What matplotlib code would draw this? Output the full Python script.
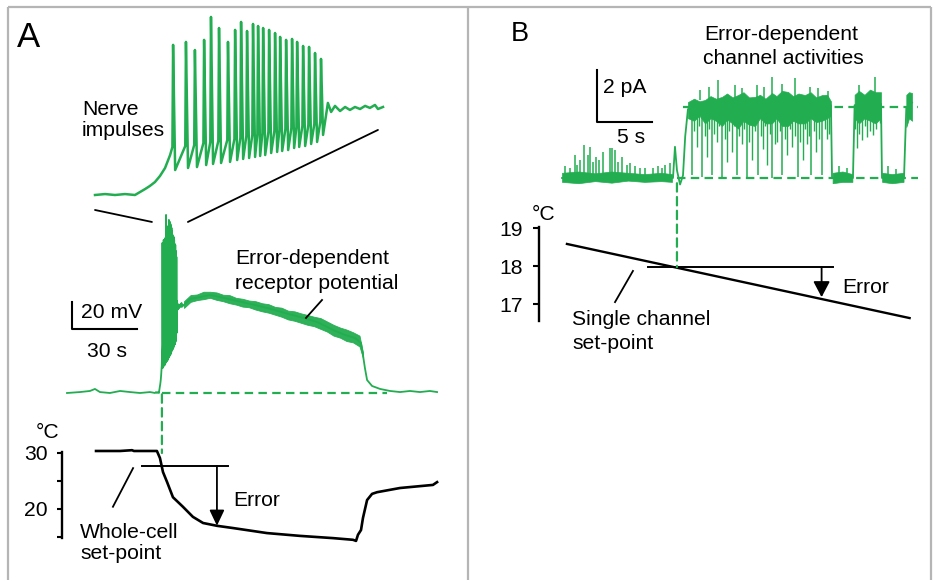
import matplotlib
matplotlib.use("Agg")
import matplotlib.pyplot as plt
from matplotlib.patches import ConnectionPatch

plt.rcParams['font.family'] = ['Liberation Sans', 'DejaVu Sans']

GREEN = '#22ad50'
GRAY = '#b5b5b5'
FS = 15.2

# ====================== DATA ======================
# ---- Panel A: whole-cell receptor potential (time s, potential mV above rest)
a_base_t = [0.0, 6.0, 10.6, 12.9, 15.2, 19.8, 24.5, 29.1, 33.7, 38.3]
a_base_v = [0.0, 0.7, 1.5, 3.0, 0.7, 0.0, 1.5, 0.7, 0.0, 0.7]

# onset of firing (this part is also shown expanded as "Nerve impulses")
a_onset_t = [40.66, 41.10, 41.53, 41.97, 42.40, 42.62, 42.84, 43.05, 43.27,
             43.49, 43.71, 43.93]
a_onset_v = [0.0, 0.7, 0.0, 0.7, 0.0, 2.2, 4.4, 6.7, 9.6, 14.1, 20.0, 29.6]

spike_t = [44.06, 44.62, 45.01, 45.41, 45.71, 46.06, 46.45, 46.76, 47.02, 47.28,
           47.54, 47.76, 47.98, 48.24, 48.50, 48.72, 48.98, 49.24, 49.46, 49.72,
           49.98, 50.24, 50.50]
spike_peak = [111.2, 113.4, 107.4, 114.9, 131.9, 123.7, 113.4, 122.3, 128.2, 121.5,
              126.7, 125.2, 123.7, 122.3, 120.0, 117.1, 114.9, 115.6, 113.4, 110.4,
              109.7, 105.2, 100.8]
spike_threshold = [35.6, 36.3, 37.1, 38.5, 39.3, 40.0, 40.8, 41.5, 42.2, 43.7,
                   44.5, 45.2, 45.9, 46.7, 47.4, 48.2, 48.9, 49.6, 50.4, 51.1,
                   51.9, 52.6, 54.1]
spike_trough = [18.5, 20.0, 20.7, 22.2, 23.0, 23.7, 24.5, 25.9, 26.7, 27.4,
                28.2, 28.9, 29.6, 31.1, 31.9, 32.6, 33.3, 34.8, 35.6, 36.3,
                37.8, 39.3, 44.5]

a_tail_t = [50.80, 50.94, 51.11, 51.33, 51.55, 51.76, 51.98, 52.20, 52.42,
            52.63, 52.85, 52.98, 53.20]
a_tail_v = [68.2, 61.5, 66.0, 62.2, 65.2, 63.0, 65.2, 63.7, 66.0, 64.5, 66.7,
            63.7, 65.2]

a_plat_t = [53.5, 56.8, 61.4, 66.0, 70.6, 76.6, 84.5, 92.3, 100.5, 107.5, 115.4,
            122.8, 128.3, 132.9, 135.7, 136.6, 137.5, 138.5, 140.8, 144.5, 149.1,
            153.7, 158.3, 162.9, 167.5, 170.8]
a_plat_v = [64.5, 69.7, 71.1, 72.6, 71.1, 68.9, 66.0, 63.0, 59.3, 56.3, 52.6,
            46.7, 43.0, 40.8, 37.0, 28.2, 18.5, 9.6, 5.2, 3.0, 1.5,
            0.7, 1.5, 0.7, 1.5, 0.7]
# noisy band around the plateau (upper / lower edge)
a_band_t = [54, 57, 60, 63, 66, 69, 72, 75, 78, 81, 84, 87, 90, 93, 96, 99, 102,
            105, 108, 111, 114, 117, 120, 123, 126, 129, 132, 135, 136.6]
a_band_hi = [68.0, 72.5, 73.0, 75.0, 75.0, 74.5, 72.8, 72.5, 70.5, 69.8, 68.5, 68.0,
             66.5, 65.8, 63.8, 63.2, 61.0, 60.5, 59.0, 57.8, 56.5, 55.5, 53.0, 50.5,
             48.5, 47.0, 45.0, 42.5, 30.0]
a_band_lo = [63.0, 67.5, 68.8, 69.5, 70.5, 69.0, 68.0, 66.5, 65.5, 64.0, 63.5, 61.8,
             60.5, 59.5, 58.0, 56.5, 54.5, 53.5, 52.0, 50.5, 49.5, 47.5, 45.5, 42.5,
             41.0, 38.5, 37.5, 34.5, 26.0]
a_response_onset = 43.8      # s
a_response_end = 147.7       # s (end of dashed rest line)

# ---- Panel A: bath temperature (time s, deg C)
a_temp_t = [13.4, 24.5, 30.0, 30.9, 41.5, 42.9, 44.3, 46.2, 48.9, 53.5, 58.1,
            62.8, 69.2, 76.6, 92.3, 107.5, 122.8, 132.0, 133.4, 134.3, 135.7,
            136.6, 138.5, 140.8, 143.1, 153.7, 168.9, 170.8]
a_temp_c = [30.36, 30.36, 30.5, 30.36, 30.36, 29.1, 26.6, 24.8, 22.1, 20.4, 18.6,
            17.5, 17.0, 16.6, 15.7, 15.2, 14.8, 14.5, 14.3, 15.4, 16.25,
            18.4, 21.6, 22.7, 23.0, 23.75, 24.3, 24.8]
a_setpoint = 27.7
a_setpoint_span = [34.6, 74.3]
a_error_t = 69.2
a_error_to = 17.0
a_temp_ticks = [15, 20, 25, 30]
a_temp_labels = ['', '20', '', '30']

# ---- Panel B: single-channel current (time s, pA)
b_trace_t = [0.0, 10.09, 10.27, 10.45, 10.73, 11.0, 11.2, 11.45, 18.0, 24.45,
             24.55, 26.45, 26.6, 29.0, 29.09, 31.09, 31.3, 31.82]
b_trace_i = [0.0, 0.0, 1.2, 0.3, -0.25, 0.1, 1.6, 2.65, 2.95, 2.8,
             0.0, 0.0, 2.8, 2.85, 0.0, 0.0, 2.7, 2.9]

b_closed1_t = [0.0, 1.5, 3.0, 4.5, 6.0, 7.5, 9.0, 10.0]
b_closed1_hi = [0.2, 0.25, 0.18, 0.25, 0.2, 0.15, 0.2, 0.15]
b_closed1_lo = [-0.15, -0.2, -0.12, -0.18, -0.1, -0.15, -0.12, -0.15]
b_closed2_t = [24.6, 25.5, 26.4]
b_closed2_hi = [0.2, 0.25, 0.15]
b_closed2_lo = [-0.2, -0.15, -0.15]
b_closed3_t = [29.1, 30.0, 31.05]
b_closed3_hi = [0.2, 0.15, 0.2]
b_closed3_lo = [-0.15, -0.2, -0.15]

b_open1_t = [11.45, 12.0, 12.5, 13.0, 13.5, 14.0, 14.55, 15.0, 15.5, 16.0, 16.5,
             17.0, 17.55, 18.0, 18.5, 19.09, 19.5, 20.0, 20.55, 21.0, 21.5, 22.09,
             22.6, 23.1, 23.64, 24.1, 24.45]
b_open1_hi = [2.92, 3.05, 2.95, 3.0, 3.15, 3.05, 3.12, 3.25, 3.1, 3.19, 3.3, 3.1,
              3.12, 3.2, 3.05, 3.27, 3.15, 3.35, 3.31, 3.15, 3.25, 3.19, 3.3, 3.1,
              3.19, 3.2, 2.95]
b_open1_lo = [2.3, 2.2, 2.4, 2.1, 2.3, 2.2, 2.0, 2.25, 2.1, 1.9, 2.2, 2.05, 2.0,
              2.3, 2.1, 2.1, 2.3, 2.0, 2.0, 2.2, 2.1, 2.1, 2.3, 2.15, 2.2, 2.3, 2.4]
b_open2_t = [26.6, 27.0, 27.5, 28.0, 28.5, 29.0]
b_open2_hi = [3.2, 3.35, 3.2, 3.4, 3.3, 3.3]
b_open2_lo = [2.3, 2.1, 2.3, 2.2, 2.1, 2.3]
b_open3_t = [31.3, 31.55, 31.82]
b_open3_hi = [3.2, 3.3, 3.27]
b_open3_lo = [1.96, 2.3, 2.2]

b_up_t = [0.3, 0.73, 1.18, 1.4, 1.64, 2.0, 2.36, 2.55, 2.8, 3.09, 3.4, 3.73, 4.36,
          4.55, 4.82, 5.1, 5.45, 5.9, 6.18, 6.6, 7.09, 7.5, 8.27, 8.7, 9.1, 9.36,
          9.82, 25.2, 25.9, 29.6, 30.4]
b_up_i = [0.45, 0.38, 0.88, 0.5, 0.69, 1.27, 0.88, 1.19, 0.6, 0.81, 0.7, 1.0, 1.15,
          1.15, 1.08, 0.6, 0.81, 0.5, 0.58, 0.45, 0.38, 0.4, 0.38, 0.45, 0.4, 0.5,
          0.58, 0.45, 0.4, 0.45, 0.35]
b_close_t = [11.82, 12.73, 13.64, 14.55, 15.91, 16.82, 17.82, 19.09, 20.0, 21.45,
             22.64, 23.64]
b_close_i = [0.1, 0.05, 0.1, 0.05, 0.1, 0.05, 0.1, 0.0, 0.1, 0.05, 0.1, 0.1]
b_part_t = [12.0, 12.27, 12.45, 13.0, 13.18, 13.36, 13.82, 14.09, 14.27, 14.82,
            15.0, 15.18, 15.45, 15.64, 16.09, 16.36, 16.55, 17.0, 17.27, 17.55,
            18.09, 18.27, 18.45, 18.64, 18.91, 19.36, 19.55, 19.82, 20.27, 20.45,
            20.73, 20.91, 21.18, 21.64, 21.91, 22.09, 22.27, 22.45, 22.91, 23.09,
            23.36, 23.91, 24.09, 24.27, 26.64, 26.82, 27.0, 27.27, 27.55, 27.73,
            28.0, 28.27, 28.55, 28.91]
b_part_i = [1.8, 1.2, 2.0, 1.6, 0.8, 1.9, 1.7, 1.4, 2.0, 1.5, 0.6, 1.8, 1.0, 2.0,
            1.6, 1.3, 1.9, 1.4, 0.7, 1.8, 1.6, 1.1, 2.0, 0.5, 1.7, 1.3, 1.4, 1.8,
            1.5, 0.9, 1.9, 1.2, 1.6, 1.4, 0.7, 1.9, 1.3, 1.6, 1.8, 1.0, 1.5, 1.9,
            1.5, 1.7, 1.9, 1.15, 1.7, 1.46, 2.0, 1.58, 1.8, 1.65, 1.9, 2.1]
b_spike_t = [12.5, 13.4, 14.18, 15.73, 16.4, 17.73, 18.4, 19.09, 20.0, 21.18,
             22.55, 23.3, 24.2, 27.0, 28.45]
b_spike_i = [3.4, 3.5, 3.77, 3.58, 3.45, 3.58, 3.5, 3.88, 3.6, 3.85,
             3.5, 3.45, 3.35, 3.58, 3.88]
b_open_level = 2.73
b_closed_level = 0.0
b_dash_span = [10.45, 32.4]
b_onset = 10.45

# ---- Panel B: temperature ramp (time s, deg C)
b_temp_t = [0.45, 31.6]
b_temp_c = [18.58, 16.63]
b_setpoint = 17.97
b_setpoint_span = [7.8, 24.6]
b_error_t = 23.6
b_error_to = 17.18
b_temp_ticks = [17, 18, 19]

# ====================== FIGURE ======================
W, H = 933, 580
fig = plt.figure(figsize=(W / 100, H / 100), dpi=100)
fig.patch.set_facecolor('white')


def calibrated_axes(box, xcal, ycal):
    """box=(left, top, right, bottom) in px; cal=(px, value, value-per-px)."""
    l, t, r, b = box
    ax = fig.add_axes([l / W, 1 - b / H, (r - l) / W, (b - t) / H])
    xp, xv, xs = xcal
    yp, yv, ys = ycal
    ax.set_xlim(xv + (l - xp) * xs, xv + (r - xp) * xs)
    ax.set_ylim(yv - (b - yp) * ys, yv - (t - yp) * ys)
    ax.set_facecolor('none')
    return ax


# layout layer (frame and text) in pixel units
lay = fig.add_axes([0, 0, 1, 1])
lay.set_xlim(0, W)
lay.set_ylim(H, 0)
lay.axis('off')
for xs_, ys_ in [([8, 8], [7, 580]), ([8, 931], [7, 7]), ([931, 931], [7, 580]),
                 ([468, 468], [7, 580])]:
    lay.plot(xs_, ys_, color=GRAY, lw=1.6, solid_capstyle='butt')

# ---- build the receptor-potential waveform from the read values
burst_t, burst_v = list(a_onset_t), list(a_onset_v)
for st, sp, th, tr in zip(spike_t, spike_peak, spike_threshold, spike_trough):
    burst_t += [st - 0.03, st, st + 0.09]
    burst_v += [th, sp, tr]
burst_t += a_tail_t
burst_v += a_tail_v

# ---- Panel A main trace
axA = calibrated_axes((0, 0, 468, 580), (67, 0.0, 30 / 65), (393, 0.0, 20 / 27))
axA.axis('off')
full_t = a_base_t + burst_t + a_plat_t
full_v = a_base_v + burst_v + a_plat_v
axA.plot(full_t, full_v, color=GREEN, lw=1.3)
axA.fill_between(a_band_t, a_band_lo, a_band_hi, color=GREEN, lw=0.6,
                 edgecolor=GREEN, alpha=0.95)
axA.plot([a_response_onset, a_response_end], [0, 0], color=GREEN, lw=1.6,
         linestyle=(0, (3.8, 2.4)))
# scale bar 20 mV / 30 s
axA.plot([2.3, 2.3, 32.3], [67.4, 47.4, 47.4], color='k', lw=1.5)
# pointer
axA.plot([117.7, 110.3], [68.9, 55.6], color='k', lw=1.3)

# ---- Panel A inset (nerve impulses, expanded time)
axI = calibrated_axes((90, 10, 390, 205), (95, 40.66, 0.04354), (195, 0.0, 20 / 27))
axI.axis('off')
axI.plot(burst_t, burst_v, color=GREEN, lw=1.8, clip_on=False)

for (xa, ya), (xb, yb) in [((40.66, -11.1), (39.2, 126.7)),
                           ((52.98, 48.2), (55.8, 126.7))]:
    fig.add_artist(ConnectionPatch(xyA=(xa, ya), coordsA=axI.transData,
                                   xyB=(xb, yb), coordsB=axA.transData,
                                   color='k', lw=1.3))

# ---- Panel A temperature
axT = calibrated_axes((62, 452, 450, 538), (67, 0.0, 30 / 65), (453, 30.0, 1 / 5.6))
for s in ['top', 'right', 'bottom']:
    axT.spines[s].set_visible(False)
axT.spines['left'].set_linewidth(1.7)
axT.set_xticks([])
axT.set_yticks(a_temp_ticks)
axT.set_yticklabels(a_temp_labels)
axT.tick_params(axis='y', length=3.8, width=1.5, pad=6.5, labelsize=FS)
axT.plot(a_temp_t, a_temp_c, color='k', lw=1.9, clip_on=False)
axT.plot(a_setpoint_span, [a_setpoint, a_setpoint], color='k', lw=1.4, clip_on=False)
axT.annotate('', xy=(a_error_t, a_error_to), xytext=(a_error_t, a_setpoint),
             arrowprops=dict(arrowstyle='-|>,head_length=0.95,head_width=0.45',
                             color='k', lw=1.3, shrinkA=0, shrinkB=0,
                             mutation_scale=10), annotation_clip=False)
axT.plot([30.5, 21.2], [27.3, 20.4], color='k', lw=1.3, clip_on=False)

fig.add_artist(ConnectionPatch(xyA=(a_response_onset, -1.0), coordsA=axA.transData,
                               xyB=(a_response_onset, 30.0), coordsB=axT.transData,
                               color=GREEN, lw=1.6, linestyle=(0, (3.8, 2.4))))

# ---- Panel B current trace
axB = calibrated_axes((470, 0, 933, 580), (562, 0.0, 5 / 55), (178, 0.0, 2 / 52))
axB.axis('off')
axB.plot(b_dash_span, [b_closed_level] * 2, color=GREEN, lw=1.6,
         linestyle=(0, (3.8, 2.4)), zorder=1)
axB.plot([11.0, b_dash_span[1]], [b_open_level] * 2, color=GREEN, lw=1.6,
         linestyle=(0, (3.8, 2.4)), zorder=1)
axB.plot(b_trace_t, b_trace_i, color=GREEN, lw=1.3, zorder=2)
for tt, hh, ll in [(b_closed1_t, b_closed1_hi, b_closed1_lo),
                   (b_closed2_t, b_closed2_hi, b_closed2_lo),
                   (b_closed3_t, b_closed3_hi, b_closed3_lo),
                   (b_open1_t, b_open1_hi, b_open1_lo),
                   (b_open2_t, b_open2_hi, b_open2_lo),
                   (b_open3_t, b_open3_hi, b_open3_lo)]:
    axB.fill_between(tt, ll, hh, color=GREEN, lw=0.5, edgecolor=GREEN, zorder=2)
axB.vlines(b_up_t, 0.1, b_up_i, color=GREEN, lw=1.1, zorder=2)
axB.vlines(b_close_t, b_close_i, 2.6, color=GREEN, lw=1.1, zorder=2)
axB.vlines(b_part_t, b_part_i, 2.6, color=GREEN, lw=1.0, zorder=2)
axB.vlines(b_spike_t, 3.0, b_spike_i, color=GREEN, lw=1.1, zorder=2)
# scale bar 2 pA / 5 s
axB.plot([3.18, 3.18, 8.18], [4.15, 2.15, 2.15], color='k', lw=1.5)

# ---- Panel B temperature
axBT = calibrated_axes((539, 227, 925, 321), (562, 0.0, 5 / 55), (266, 18.0, 1 / 38))
for s in ['top', 'right', 'bottom']:
    axBT.spines[s].set_visible(False)
axBT.spines['left'].set_linewidth(1.7)
axBT.set_xticks([])
axBT.set_yticks(b_temp_ticks)
axBT.set_yticklabels([str(v) for v in b_temp_ticks])
axBT.tick_params(axis='y', length=4.3, width=1.5, pad=7, labelsize=FS)
axBT.plot(b_temp_t, b_temp_c, color='k', lw=1.7, clip_on=False)
axBT.plot(b_setpoint_span, [b_setpoint, b_setpoint], color='k', lw=1.4, clip_on=False)
axBT.annotate('', xy=(b_error_t, b_error_to), xytext=(b_error_t, b_setpoint),
              arrowprops=dict(arrowstyle='-|>,head_length=0.95,head_width=0.5',
                              color='k', lw=1.3, shrinkA=0, shrinkB=0,
                              mutation_scale=10), annotation_clip=False)
axBT.plot([6.45, 4.82], [17.87, 17.05], color='k', lw=1.3, clip_on=False)

fig.add_artist(ConnectionPatch(xyA=(b_onset, -0.2), coordsA=axB.transData,
                               xyB=(b_onset, b_setpoint), coordsB=axBT.transData,
                               color=GREEN, lw=1.6, linestyle=(0, (3.8, 2.4))))

# ---- texts (pixel positions, baseline anchored)
def label(x, y, s, size=FS, ha='left'):
    lay.text(x, y, s, fontsize=size, ha=ha, va='baseline', color='k')

label(17, 47, 'A', size=25)
label(511, 41, 'B', size=19.5)
label(82, 115, 'Nerve')
label(82, 136, 'impulses')
label(235, 264, 'Error-dependent')
label(235, 289, 'receptor potential')
label(81, 318, '20 mV')
label(87, 357, '30 s')
label(36, 438, '°C')
label(233, 506, 'Error')
label(80, 538, 'Whole-cell')
label(80, 559, 'set-point')
label(781, 40, 'Error-dependent', ha='center')
label(783, 64, 'channel activities', ha='center')
label(603, 93, '2 pA')
label(617, 143, '5 s')
label(532, 220, '°C')
label(842, 293, 'Error')
label(572, 325, 'Single channel')
label(572, 349, 'set-point')

fig.savefig('out.png', dpi=100)
